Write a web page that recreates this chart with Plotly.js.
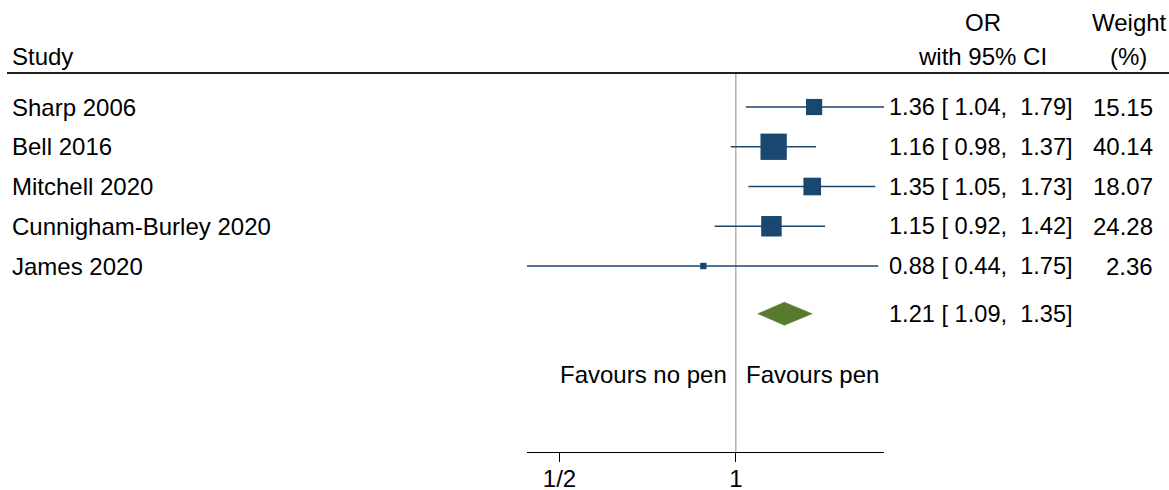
<!DOCTYPE html>
<html>
<head>
<meta charset="utf-8">
<script src="https://cdn.plot.ly/plotly-3.0.1.min.js"></script>
<style>html,body{margin:0;padding:0;background:#fff;}#chart{width:1169px;height:490px;}</style>
</head>
<body>
<div id="chart"></div>
<script>
// ---- data ----
const studies = ["Sharp 2006", "Bell 2016", "Mitchell 2020", "Cunnigham-Burley 2020", "James 2020"];
const orValues = [1.36, 1.16, 1.35, 1.15, 0.88];
const lowerCI = [1.04, 0.98, 1.05, 0.92, 0.44];
const upperCI = [1.79, 1.37, 1.73, 1.42, 1.75];
const weights = [15.15, 40.14, 18.07, 24.28, 2.36];
const overallOR = 1.21;
const overallLower = 1.09;
const overallUpper = 1.35;
const tickValues = [0.5, 1];
const tickLabels = ["1/2", "1"];
const nullValue = 1;

// ---- layout helpers ----
const W = 1169, H = 490;
const FONT = "Liberation Sans, Arial, sans-serif";
const FS = 24;
const FS_CI = 23.6;
const navy = "#1a476f";
const green = "#587a2c";
const px = v => v / W;

const rows = studies.map((s, i) => i + 1);
const overallRow = studies.length + 1.2;
const maxW = Math.max(...weights);
const sizes = weights.map(w => 26.3 * Math.sqrt(w / maxW));
const nb = s => s.replace(/ /g, "\u00a0");
const f2 = v => v.toFixed(2);
const ciText = (o, l, u) => nb(f2(o) + " [ " + f2(l) + ",  " + f2(u) + "]");

const xmin = Math.min(...lowerCI), xmax = Math.max(...upperCI);
const yTop = -1.692, yBottom = 9.679;

const traces = [];
// null line
traces.push({
  x: [nullValue, nullValue], y: [0.145, yBottom], mode: "lines",
  line: {color: "#8c8c8c", width: 1}, hoverinfo: "skip", showlegend: false
});
// study CIs + squares
traces.push({
  x: orValues, y: rows, mode: "markers", type: "scatter",
  marker: {symbol: "square", size: sizes, color: navy, opacity: 1, line: {width: 0}},
  error_x: {type: "data", symmetric: false,
    array: upperCI.map((u, i) => u - orValues[i]),
    arrayminus: lowerCI.map((l, i) => orValues[i] - l),
    color: navy, thickness: 1.6, width: 0},
  showlegend: false, hoverinfo: "skip"
});
// overall diamond
const dh = 0.29;
traces.push({
  x: [overallLower, overallOR, overallUpper, overallOR, overallLower],
  y: [overallRow, overallRow - dh, overallRow, overallRow + dh, overallRow],
  mode: "lines", fill: "toself", fillcolor: green,
  line: {color: green, width: 0.5}, showlegend: false, hoverinfo: "skip"
});

const ann = [];
const txt = (text, x, y, anchor, extra, size) => Object.assign({
  text: text, xref: "paper", yref: "y", x: x, y: y, xanchor: anchor, yanchor: "middle",
  showarrow: false, font: {family: FONT, size: size || FS, color: "#000"}
}, extra || {});

ann.push(txt("Study", px(10), -0.26, "left"));
ann.push(txt("OR", px(983), -1.13, "center"));
ann.push(txt(nb("with 95% CI"), px(982), -0.26, "center"));
ann.push(txt("Weight", px(1129), -1.13, "center"));
ann.push(txt("(%)", px(1128), -0.26, "center"));

studies.forEach((s, i) => {
  ann.push(txt(s, px(10), rows[i], "left"));
  ann.push(txt(ciText(orValues[i], lowerCI[i], upperCI[i]), px(1075), rows[i], "right", null, FS_CI));
  ann.push(txt(f2(weights[i]), px(1155), rows[i], "right"));
});
ann.push(txt(ciText(overallOR, overallLower, overallUpper), px(1075), overallRow, "right", null, FS_CI));

ann.push(Object.assign(txt(nb("Favours no pen"), Math.log10(nullValue), 7.74, "right"), {xref: "x", xshift: -7}));
ann.push(Object.assign(txt(nb("Favours pen"), Math.log10(nullValue), 7.74, "left"), {xref: "x", xshift: 8}));

const layout = {
  width: W, height: H,
  margin: {l: 0, r: 0, t: 0, b: 38, pad: 0},
  paper_bgcolor: "#fff", plot_bgcolor: "#fff",
  showlegend: false,
  xaxis: {
    type: "log", domain: [px(527), px(884)],
    range: [Math.log10(xmin), Math.log10(xmax)],
    tickvals: tickValues, ticktext: tickLabels,
    ticks: "outside", ticklen: 9, tickwidth: 1, tickcolor: "#000",
    ticklabelstandoff: -4,
    showline: true, linecolor: "#000", linewidth: 1,
    showgrid: false, zeroline: false,
    tickfont: {family: FONT, size: FS, color: "#000"}
  },
  yaxis: {
    range: [yBottom, yTop], visible: false, showgrid: false, zeroline: false
  },
  shapes: [{
    type: "line", xref: "paper", yref: "y", x0: px(7), x1: 1, y0: 0.145, y1: 0.145,
    line: {color: "#222", width: 2}
  }],
  annotations: ann
};

Plotly.newPlot("chart", traces, layout, {displayModeBar: false, staticPlot: true});
</script>
</body>
</html>
